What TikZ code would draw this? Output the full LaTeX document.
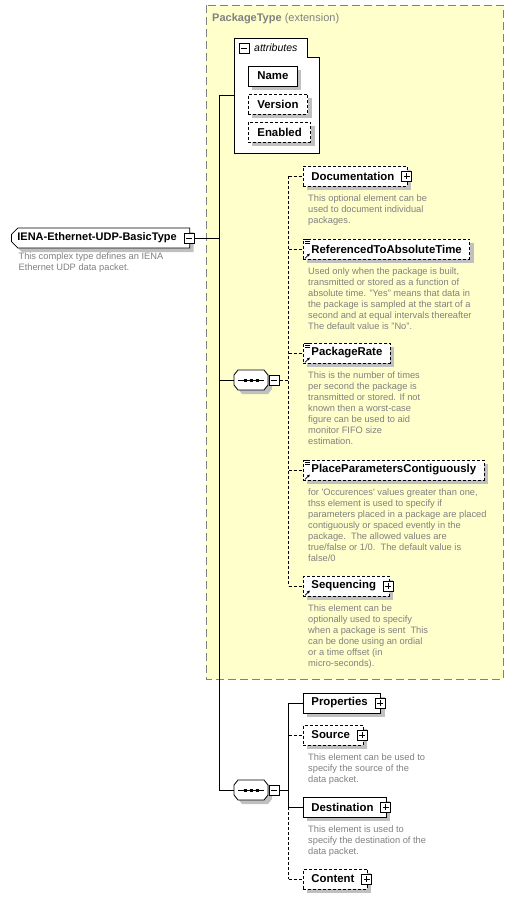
\documentclass[tikz,border=0pt]{standalone}
\usepackage{fontspec}
\setmainfont{Liberation Sans}
\usetikzlibrary{positioning,shapes.misc,shadows,arrows.meta}
\definecolor{pkgyellow}{HTML}{FFFFCC}
\definecolor{notegray}{HTML}{808080}
\definecolor{shadegray}{HTML}{C0C0C0}

\begin{document}
\begin{tikzpicture}[
	x=1pt, y=-1pt,
	boxshadow/.style={drop shadow={shadow xshift=4pt, shadow yshift=-4pt, fill=shadegray, opacity=1}},
	elem/.style={rectangle, draw=black, fill=white, line width=0.8pt, minimum height=20pt, inner xsep=8pt, inner ysep=0pt, anchor=west, font=\fontsize{11.4}{13}\selectfont\bfseries, boxshadow},
	opt/.style={elem, dash pattern=on 3pt off 2pt},
	attr/.style={elem, inner xsep=9pt},
	optattr/.style={attr, dash pattern=on 3pt off 2pt},
	more/.style={execute at end node={\hspace{#1}}},
	more/.default=5pt,
	note/.style={align=left, inner sep=0pt, text=notegray, font=\fontsize{9.3}{11}\selectfont},
	comp/.style={rectangle, minimum width=34pt, minimum height=20pt, inner sep=0pt},
	pkgbox/.style={draw=notegray, fill=pkgyellow, line width=0.8pt, dash pattern=on 8pt off 4pt},
	link/.style={line width=0.8pt},
	optlink/.style={link, dash pattern=on 3pt off 2pt},
	iconbox/.style={draw=black, fill=white, line width=0.8pt, minimum size=10pt, inner sep=0pt},
	minusbox/.pic={\node (-box) [iconbox] {}; \draw[link] (-3,0) -- (3,0);},
	plusbox/.pic={\node (-box) [iconbox] {}; \draw[link] (-3,0) -- (3,0) (0,-3) -- (0,3);},
	seqshape/.pic={
		\draw[link, fill=white, boxshadow] (-13,-10) -- (13,-10) -- (17,-5) -- (17,5) -- (13,10) -- (-13,10) -- (-17,5) -- (-17,-5) -- cycle;
		\draw[link] (-13,0) -- (13,0);
		\draw[line width=3pt, dash pattern=on 3pt off 3pt] (-7.5,0) -- (7.5,0);},
	typeicon/.pic={\draw[line width=0.6pt] (2,1) -- (7,1) (2,3) -- (7,3) (2,5) -- (7,5);},
	refarrow/.pic={\draw[line width=0.8pt, -{Latex[length=3pt,width=3pt]}] (2,-1) -- (7,-6);}
	]
	\useasboundingbox (0,0) rectangle (514,899);

	% extension frame
	\draw[pkgbox] (206,5) rectangle (503,679);
	\node (pkglabel) [anchor=west, inner sep=0pt, text=notegray, font=\fontsize{11}{13}\selectfont] at (212,19) {\textbf{PackageType} (extension)};

	% root type
	\node (root) [elem, chamfered rectangle, chamfered rectangle corners={north west,south west}, chamfered rectangle xsep=3pt, inner xsep=3pt, font=\fontsize{11}{13}\selectfont\bfseries, more=7pt] at (11,238) {IENA-Ethernet-UDP-BasicType};
	\pic (rootm) at ([xshift=-1pt]root.east) {minusbox};
	\node (rootnote) [note, below right=8pt and 4pt of root.south west] {This complex type defines an IENA\\Ethernet UDP data packet.};

	% attributes
	\node (attrs) [minimum width=85pt, minimum height=115pt, inner sep=0pt, anchor=north west] at (234,38) {};
	\draw[link, fill=white] (attrs.north west) -- ++(73,0) -- ++(0,19) -| (attrs.south east) -- (attrs.south west) -- cycle;
	\pic (attrm) at (244,48.5) {minusbox};
	\node (attrlabel) [anchor=west, inner sep=0pt, font=\fontsize{10.5}{12}\selectfont\itshape] at (254,48) {attributes};
		\node (name) [attr] at (248,76) {Name};
		\node (version) [optattr] at (248,104) {Version};
		\node (enabled) [optattr] at (248,132) {Enabled};

	% first sequence
	\node (seqa) [comp] at (251,380) {};
	\pic at (seqa) {seqshape};
	\pic (seqam) at ([xshift=6pt]seqa.east) {minusbox};

		\node (doc) [opt, more] at (303,176) {Documentation};
		\pic (docp) at ([xshift=-1pt]doc.east) {plusbox};
		\node (docnote) [note, below right=8pt and 5pt of doc.south west] {This optional element can be\\used to document individual\\packages.};

		\node (reftime) [opt] at (303,249) {ReferencedToAbsoluteTime};
		\pic at (reftime.north west) {typeicon};
		\pic at (reftime.south west) {refarrow};
		\node (reftimenote) [note, below right=8pt and 5pt of reftime.south west] {Used only when the package is built,\\transmitted or stored as a function of\\absolute time. "Yes" means that data in\\the package is sampled at the start of a\\second and at equal intervals thereafter\\The default value is "No".};

		\node (rate) [opt] at (303,353) {PackageRate};
		\pic at (rate.north west) {typeicon};
		\pic at (rate.south west) {refarrow};
		\node (ratenote) [note, below right=8pt and 5pt of rate.south west] {This is the number of times\\per second the package is\\transmitted or stored. If not\\known then a worst-case\\figure can be used to aid\\monitor FIFO size\\estimation.};

		\node (placepar) [opt] at (303,470) {PlaceParametersContiguously};
		\pic at (placepar.north west) {typeicon};
		\pic at (placepar.south west) {refarrow};
		\node (placeparnote) [note, below right=8pt and 5pt of placepar.south west] {for \textquotesingle Occurences\textquotesingle{} values greater than one,\\thss element is used to specify if\\parameters placed in a package are placed\\contiguously or spaced evently in the\\package.\ \ The allowed values are\\true/false or 1/0.\ \ The default value is\\false/0};

		\node (seq) [opt, more] at (303,586) {Sequencing};
		\pic at (seq.south west) {refarrow};
		\pic (seqp) at ([xshift=-1pt]seq.east) {plusbox};
		\node (seqnote) [note, below right=8pt and 5pt of seq.south west] {This element can be\\optionally used to specify\\when a package is sent\ \ This\\can be done using an ordial\\or a time offset (in\\micro-seconds).};

	% second sequence
	\node (seqb) [comp] at (251,790) {};
	\pic at (seqb) {seqshape};
	\pic (seqbm) at ([xshift=6pt]seqb.east) {minusbox};

		\node (props) [elem, more] at (303,703) {Properties};
		\pic (propsp) at ([xshift=-1pt]props.east) {plusbox};

		\node (src) [opt, more] at (303,735) {Source};
		\pic (srcp) at ([xshift=-1pt]src.east) {plusbox};
		\node (srcnote) [note, below right=8pt and 5pt of src.south west] {This element can be used to\\specify the source of the\\data packet.};

		\node (dest) [elem, more] at (303,807) {Destination};
		\pic (destp) at ([xshift=-1pt]dest.east) {plusbox};
		\node (destnote) [note, below right=8pt and 5pt of dest.south west] {This element is used to\\specify the destination of the\\data packet.};

		\node (content) [opt, more] at (303,879) {Content};
		\pic (contentp) at ([xshift=-1pt]content.east) {plusbox};

	% spine
	\draw [link] (attrs.west) -- ++(-15,0) coordinate (spine);
	\draw [link] (spine) -- (spine |- seqb.west) -- (seqb.west);
	\draw [link] (rootm-box.east) -- (rootm-box.east -| spine);
	\draw [link] (spine |- seqa.west) -- (seqa.west);

	% first sequence branches
	\draw [optlink] (seqam-box.east) -- ++(9,0) coordinate (forka);
	\draw [optlink] (forka |- doc.west) -- (forka |- seq.west);
	\draw [optlink] (forka |- doc.west) -- (doc.west);
	\draw [optlink] (forka |- reftime.west) -- (reftime.west);
	\draw [optlink] (forka |- rate.west) -- (rate.west);
	\draw [optlink] (forka |- placepar.west) -- (placepar.west);
	\draw [optlink] (forka |- seq.west) -- (seq.west);

	% second sequence branches
	\draw [link] (seqbm-box.east) -- ++(9,0) coordinate (forkb);
	\draw [link] (forkb |- props.west) -- (forkb |- dest.west);
	\draw [optlink] (forkb |- dest.west) -- (forkb |- content.west);
	\draw [link] (forkb |- props.west) -- (props.west);
	\draw [optlink] (forkb |- src.west) -- (src.west);
	\draw [link] (forkb |- dest.west) -- (dest.west);
	\draw [optlink] (forkb |- content.west) -- (content.west);

\end{tikzpicture}
\end{document}
